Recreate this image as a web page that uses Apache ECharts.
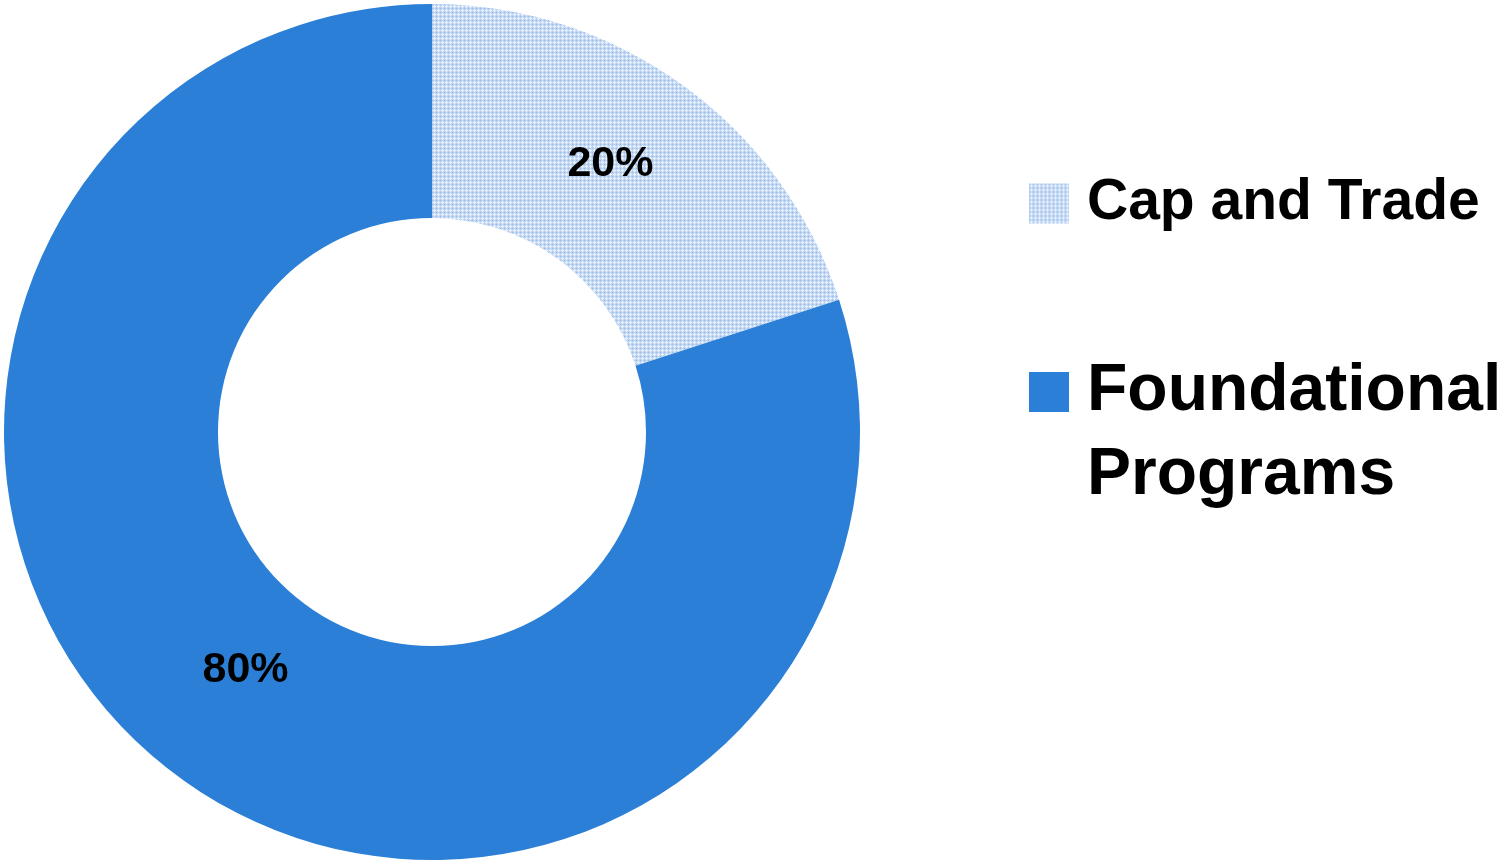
<!DOCTYPE html>
<html>
<head>
<meta charset="utf-8">
<script src="https://cdn.jsdelivr.net/npm/echarts@6/dist/echarts.min.js"></script>
<style>html,body{margin:0;padding:0;background:#fff}#c{width:1504px;height:861px}</style>
</head>
<body>
<div id="c"></div>
<script>
var categories = ['Cap and Trade', 'Foundational Programs'];
var values = [20, 80];

function makePattern() {
  var cv = document.createElement('canvas');
  cv.width = 4; cv.height = 4;
  var ctx = cv.getContext('2d');
  ctx.fillStyle = '#bcd4f1';
  ctx.fillRect(0, 0, 4, 4);
  ctx.fillStyle = '#e8f1fc';
  ctx.fillRect(2, 1, 1, 3);
  ctx.fillRect(1, 2, 3, 1);
  ctx.fillStyle = '#98bbe8';
  ctx.fillRect(0, 0, 1, 1);
  return cv;
}
var colors = [{ image: makePattern(), repeat: 'repeat' }, '#2b7fd6'];

var chart = echarts.init(document.getElementById('c'), null, { renderer: 'canvas' });
var data = categories.map(function (n, i) {
  return { name: n, value: values[i], itemStyle: { color: colors[i] } };
});
var labelShift = [[-12, -6], [4, -24]];
chart.setOption({
  animation: false,
  legend: [{
    data: [categories[0]],
    orient: 'vertical',
    left: 1029,
    top: 175,
    padding: 0,
    itemWidth: 40,
    itemHeight: 40,
    icon: 'rect',
    textStyle: { fontFamily: 'Liberation Sans', fontWeight: 'bold', fontSize: 57, color: '#000', padding: [0, 0, 0, 13] }
  }, {
    data: [categories[1]],
    orient: 'vertical',
    left: 1029,
    top: 265,
    padding: 0,
    itemWidth: 40,
    itemHeight: 40,
    icon: 'rect',
    formatter: function () { return ' \nFoundational\nPrograms'; },
    textStyle: { fontFamily: 'Liberation Sans', fontWeight: 'bold', fontSize: 66, lineHeight: 84, color: '#000', padding: [2, 0, 0, 13] }
  }],
  series: [{
    type: 'pie',
    center: [432, 432],
    radius: [214, 428],
    startAngle: 90,
    clockwise: true,
    avoidLabelOverlap: false,
    data: data,
    label: {
      show: true,
      position: 'inside',
      formatter: '{c}%',
      fontFamily: 'Liberation Sans',
      fontWeight: 'bold',
      fontSize: 43,
      color: '#000'
    },
    labelLayout: function (p) {
      return { dx: labelShift[p.dataIndex][0], dy: labelShift[p.dataIndex][1] };
    },
    labelLine: { show: false },
    emphasis: { disabled: true }
  }]
});
</script>
</body>
</html>
